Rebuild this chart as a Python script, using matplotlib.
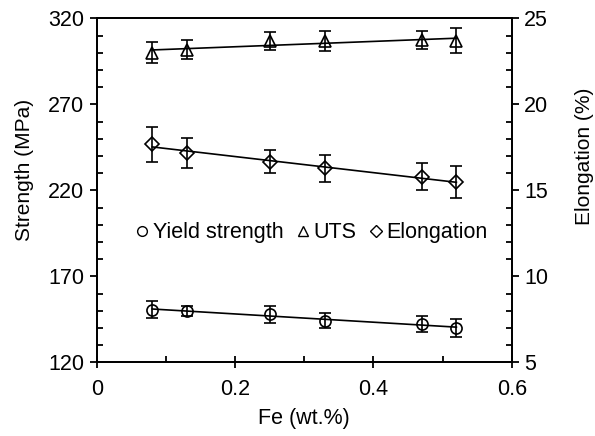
import numpy as np
import matplotlib.pyplot as plt
from matplotlib.lines import Line2D
from matplotlib.ticker import MultipleLocator

plt.rcParams['font.family'] = ['Liberation Sans', 'DejaVu Sans']
plt.rcParams['font.size'] = 15.5

fe = [0.08, 0.13, 0.25, 0.33, 0.47, 0.52]
ys = [150.6, 149.8, 147.9, 144.3, 142.4, 139.8]
ys_err = [5.0, 2.9, 4.8, 4.6, 4.7, 5.3]
uts = [299.9, 301.8, 306.9, 306.9, 307.4, 306.9]
uts_err = [6.1, 5.6, 5.3, 5.9, 5.2, 7.3]
elong = [17.68, 17.19, 16.66, 16.27, 15.78, 15.48]
elong_err = [1.02, 0.87, 0.68, 0.77, 0.78, 0.95]

x_ticks = [0, 0.2, 0.4, 0.6]
x_labels = ['0', '0.2', '0.4', '0.6']
strength_ticks = [120, 170, 220, 270, 320]
elong_ticks = [5, 10, 15, 20, 25]

fig = plt.figure(figsize=(5.95, 4.36), dpi=100)
ax = fig.add_axes([0.163, 0.169, 0.697, 0.789])
ax2 = ax.twinx()

mk = dict(color='black', mfc='none', mec='black', mew=1.2, linestyle='none',
          ecolor='black', elinewidth=1.2, capsize=4, capthick=1.2)

def trend(a, x, y):
    k, b = np.polyfit(x, y, 1)
    xx = np.array([min(x), max(x)])
    a.plot(xx, k * xx + b, color='black', lw=1.2)

trend(ax, fe, ys)
trend(ax, fe, uts)
trend(ax2, fe, elong)
ax.errorbar(fe, ys, yerr=ys_err, marker='o', ms=8, **mk)
ax.errorbar(fe, uts, yerr=uts_err, marker='^', ms=8, **mk)
ax2.errorbar(fe, elong, yerr=elong_err, marker='D', ms=7, **mk)

ax.set_xlim(0, 0.6)
ax.set_ylim(120, 320)
ax2.set_ylim(5, 25)
ax.set_xticks(x_ticks)
ax.set_xticklabels(x_labels)
ax.xaxis.set_minor_locator(MultipleLocator(0.1))
ax.set_yticks(strength_ticks)
ax.yaxis.set_minor_locator(MultipleLocator(10))
ax2.set_yticks(elong_ticks)
ax2.yaxis.set_minor_locator(MultipleLocator(1))

ax.tick_params(axis='x', which='major', direction='inout', length=8, width=1.3, pad=8)
ax.tick_params(axis='x', which='minor', direction='in', length=4.5, width=1.3)
ax.tick_params(axis='y', which='major', direction='out', length=5, width=1.3, pad=4)
ax.tick_params(axis='y', which='minor', direction='in', length=4.5, width=1.3)
ax2.tick_params(axis='y', which='major', direction='out', length=5, width=1.3, pad=4)
ax2.tick_params(axis='y', which='minor', direction='in', length=4.5, width=1.3)
for a in (ax, ax2):
    for s in a.spines.values():
        s.set_linewidth(1.3)

ax.set_xlabel('Fe (wt.%)', labelpad=6)
ax.set_ylabel('Strength (MPa)', fontsize=15)
ax.yaxis.set_label_coords(-0.153, 0.56)
ax2.set_ylabel('Elongation (%)', fontsize=15)
ax2.yaxis.set_label_coords(1.152, 0.60)

handles = [
    Line2D([], [], marker='o', ls='none', mfc='none', mec='black', mew=1.0, ms=7),
    Line2D([], [], marker='^', ls='none', mfc='none', mec='black', mew=1.0, ms=7),
    Line2D([], [], marker='D', ls='none', mfc='none', mec='black', mew=1.0, ms=6),
]
ax.legend(handles, ['Yield strength', 'UTS', 'Elongation'], ncol=3, frameon=False,
          loc='center', bbox_to_anchor=(0.518, 0.376), handlelength=0.6,
          handletextpad=0.2, columnspacing=0.6, borderpad=0)

fig.savefig('out.png', dpi=100)
